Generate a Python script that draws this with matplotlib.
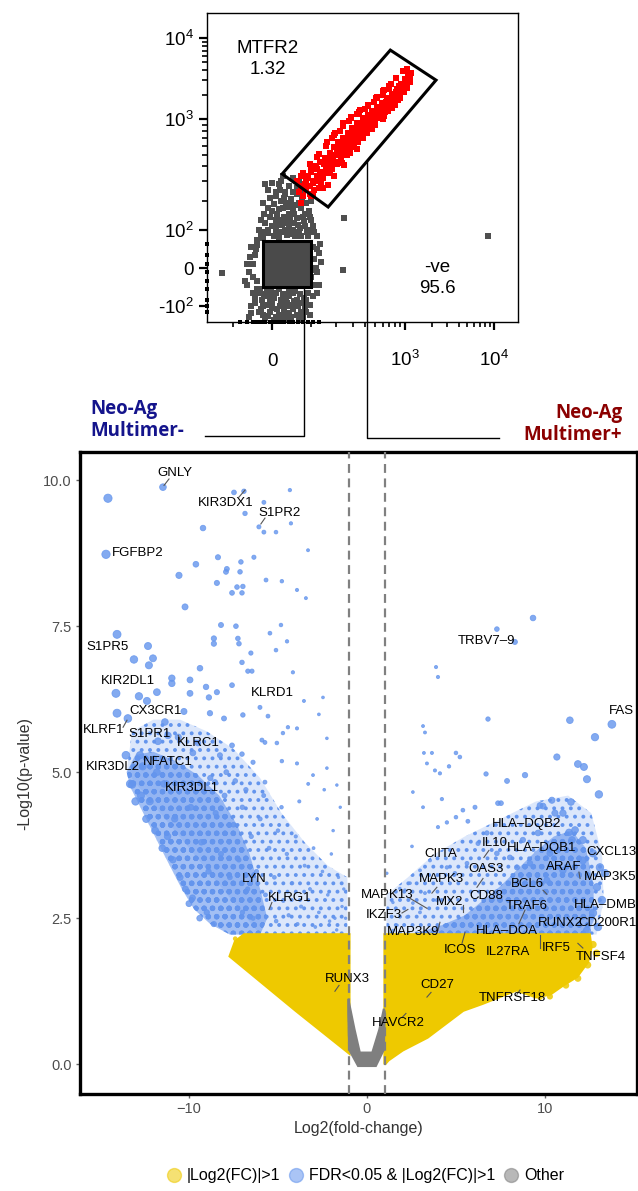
"""
Neo-Ag multimer sort (flow plot) + volcano plot of multimer+ vs multimer- cells
"""

import numpy as np
import matplotlib.pyplot as plt
from matplotlib.colors import to_rgba
from matplotlib.lines import Line2D
from matplotlib.patches import Polygon, Rectangle
from matplotlib.ticker import FixedLocator, NullFormatter

plt.rcParams['font.family'] = ['Liberation Sans', 'DejaVu Sans']
plt.rcParams['mathtext.fontset'] = 'custom'
plt.rcParams['mathtext.rm'] = 'Liberation Sans'
plt.rcParams['hatch.linewidth'] = 1.6

# ---------------- flow data (fluorescence intensity) ----------------
# biexponential axes: tick value -> position anchors
flow_x_anchor_val = [-205, 0, 1000, 10000, 18600]
flow_x_anchor_pos = [0, 65, 198, 287, 311]
flow_y_anchor_val = [-160, -100, 0, 100, 1000, 10000, 20000]
flow_y_anchor_pos = [0, 16, 54, 92, 203, 284, 309]

gate_pos = np.array([(23, 345), (716, 7110), (2230, 3030), (163, 174)])   # MTFR2 gate
gate_neg = (-20, -45, 100, 67)                                            # -ve gate  x0,y0,x1,y1

red_cells = np.array([
    (60, 300), (65, 240), (70, 330), (75, 220), (80, 280), (85, 250), (90, 320), (95, 230),
    (100, 360), (105, 290), (110, 250), (115, 400), (120, 330), (125, 300), (130, 440), (135, 360),
    (140, 320), (150, 470), (155, 390), (160, 350), (170, 520), (175, 430), (180, 380), (190, 590),
    (200, 500), (210, 640), (215, 560), (225, 470), (235, 690), (245, 600), (255, 520), (265, 760),
    (275, 650), (285, 580), (295, 850), (310, 740), (320, 660), (335, 930), (350, 800), (365, 720),
    (380, 1020), (395, 880), (410, 790), (425, 1120), (440, 960), (460, 860), (475, 1250), (490, 1070),
    (510, 960), (530, 1400), (550, 1200), (570, 1080), (595, 1580), (620, 1350), (640, 1220), (670, 1800),
    (700, 1550), (720, 1380), (750, 2050), (780, 1780), (800, 1600), (830, 2350), (860, 2050), (880, 1850),
    (920, 2700), (950, 2400), (980, 2150), (1010, 3100), (1040, 2800), (1080, 3500), (1120, 3300),
    (1100, 3750), (1150, 3600), (245, 410), (163, 277), (209, 520), (140, 260), (330, 560),
    (600, 1000), (870, 2600), (100, 220), (190, 330),
    (70, 270), (85, 300), (95, 270), (110, 300), (120, 380), (130, 340), (145, 420), (150, 350),
    (165, 450), (170, 400), (185, 480), (195, 440), (205, 560), (220, 600), (230, 530), (240, 650),
    (250, 560), (260, 620), (270, 700), (280, 610), (290, 680), (300, 780), (315, 700), (325, 820),
    (340, 740), (355, 860), (370, 780), (385, 940), (400, 840), (420, 1000), (435, 900), (450, 1080),
    (465, 960), (485, 1150), (500, 1010), (520, 1250), (540, 1120), (560, 1350), (580, 1200),
    (610, 1450), (630, 1300), (655, 1650), (680, 1450), (710, 1700), (735, 1550), (765, 1900),
    (790, 1700), (820, 2150), (845, 1950), (900, 2400), (930, 2250), (965, 2600), (1000, 2450),
    (1030, 3000), (1060, 2700), (1090, 3200), (1130, 3450), (1160, 3700), (125, 260), (175, 500),
    (260, 700), (380, 900), (560, 1250),
    (75, 350), (70, 190), (80, 330), (95, 420), (105, 230), (100, 400), (125, 510), (135, 280),
    (120, 480), (160, 640), (170, 350), (155, 600), (195, 770), (205, 420), (190, 730), (240, 920),
    (260, 500), (235, 880), (290, 1070), (310, 590), (285, 1030), (355, 1280), (385, 700), (350, 1240),
    (430, 1510), (470, 830), (425, 1450), (530, 1890), (570, 1040), (520, 1800), (625, 2300),
    (680, 1260), (610, 2200), (720, 2700), (790, 1500), (700, 2600), (820, 3200), (890, 1800),
    (960, 3900), (1050, 2400), (1060, 4200), (1150, 2900), (180, 690), (220, 800), (275, 960),
    (330, 1150), (400, 1320), (490, 1650), (600, 2000), (700, 2350), (230, 430), (280, 520),
    (340, 640), (420, 760), (510, 900), (620, 1100), (740, 1380), (860, 1700),
])

gray_cells = np.array([
    (-10, 90), (0, 110), (10, 130), (20, 95), (30, 120), (40, 150), (50, 100), (60, 135), (70, 170),
    (80, 110), (-20, 75), (-5, 140), (25, 170), (45, 200), (55, 80), (15, 75), (35, 85), (65, 90),
    (90, 80), (100, 130), (5, 185), (-30, 100), (75, 140), (85, 190), (110, 95), (40, 110), (30, 230),
    (60, 260), (20, 300), (-15, 120), (-40, 30), (-55, -10), (-35, -30), (-50, 50), (-60, 10),
    (110, 20), (120, -10), (105, 50), (130, 60), (-45, -60), (-30, -60), (-10, -70), (0, -90),
    (10, -60), (20, -80), (30, -100), (40, -70), (50, -110), (-20, -100), (-5, -120), (15, -130),
    (25, -65), (35, -90), (60, -80), (70, -120), (-40, -90), (45, -140), (5, -150), (-15, -145),
    (80, -100), (55, -55), (90, -60), (-140, -12), (237, -4), (245, 135), (8500, 80),
    (0, 290), (15, 280), (44, 205), (30, 240), (55, 180), (20, 200), (60, 230), (-10, 250), (10, 220),
    (-25, 85), (-8, 100), (8, 95), (22, 115), (38, 95), (52, 120), (68, 105), (82, 150), (95, 100),
    (12, 150), (28, 140), (48, 170), (62, 115), (0, 160), (-18, 150), (33, 190), (72, 210), (18, 250),
    (50, 240), (-5, 210), (40, 270), (25, 330), (65, 300), (-28, -50), (-12, -55), (5, -75),
    (22, -95), (38, -55), (52, -85), (68, -65), (85, -80), (-22, -80), (-8, -95), (12, -110),
    (28, -120), (42, -100), (58, -130), (75, -140), (-30, -120), (-10, -135), (20, -145), (35, -150),
    (95, -130), (-50, -100), (-60, -40), (-45, 10), (-38, 45), (115, 0), (125, 35), (112, -40),
    (-55, -140), (100, -20),
    (-35, 70), (-15, 95), (5, 80), (18, 130), (42, 130), (58, 95), (78, 125), (92, 160), (105, 110),
    (120, 80), (-25, 130), (10, 110), (30, 100), (48, 88), (70, 80), (88, 95), (-8, 170), (15, 165),
    (52, 150), (95, 140), (38, 175), (65, 190), (-20, 190), (8, 240), (28, 210), (75, 240), (100, 200),
    (50, 320), (-15, 280), (-35, -50), (-18, -65), (-2, -58), (15, -50), (32, -75), (48, -62),
    (62, -100), (78, -75), (95, -95), (-40, -75), (-25, -110), (0, -105), (18, -100), (30, -140),
    (50, -95), (65, -150), (85, -120), (105, -70), (-50, -125), (-20, -130), (10, -140), (40, -125),
    (-5, -80), (70, -90), (120, -60), (-45, -20), (-52, 25), (-35, 55), (-65, -30), (108, -5),
    (118, 45), (135, 15), (125, -40),
])
edge_cells_x = [-80, -60, -45, -35, -25, -15, -5, 5, 12, 20, 28, 40, 50, 62, 75, 90, 105, 125]  # bottom edge
edge_cells_y = [-120, -80, -50, -30, -10, 10, 30, 60, -100]                                   # left edge

# ---------------- volcano data ----------------
blue_pts = np.array([
    (-14.55, 9.69), (-11.46, 9.88), (-7.47, 9.79), (-6.91, 9.81), (-4.33, 9.83), (-5.79, 9.62),
    (-6.85, 9.43), (-6.07, 9.2), (-5.79, 9.11), (-5.11, 9.11), (-4.27, 9.26), (-9.21, 9.18),
    (-3.31, 8.8), (-14.66, 8.73), (-8.37, 8.68), (-7.08, 8.6), (-6.35, 8.68), (-9.61, 8.56),
    (-7.87, 8.48), (-7.92, 8.43), (-7.13, 8.43), (-10.56, 8.37), (-5.67, 8.29), (-4.78, 8.27),
    (-8.43, 8.24), (-7.30, 8.17), (-6.97, 8.18), (-3.93, 8.12), (-7.58, 8.07), (-7.02, 8.07),
    (-3.43, 7.98), (-10.22, 7.83), (-8.2, 7.52), (-7.36, 7.5), (-4.83, 7.52), (-5.45, 7.38),
    (-14.04, 7.36), (-8.6, 7.29), (-7.25, 7.29), (-4.49, 7.24), (-8.6, 7.2), (-7.19, 7.2),
    (-12.3, 7.16), (-5.11, 7.09), (-13.09, 6.93), (-12.02, 6.95), (-6.52, 7.04), (-12.25, 6.83),
    (-7.02, 6.88), (-9.38, 6.78), (-6.69, 6.73), (-6.46, 6.73), (-4.16, 6.71), (-10.96, 6.61),
    (-9.94, 6.58), (-10.96, 6.52), (-7.58, 6.49), (-9.04, 6.46), (-14.1, 6.35), (-12.81, 6.3),
    (-11.8, 6.37), (-9.94, 6.35), (-8.88, 6.28), (-8.43, 6.37), (-2.47, 6.28), (-3.54, 6.22),
    (-12.36, 6.22), (-6.01, 6.11), (-5.56, 5.96), (-2.7, 5.99), (-14.04, 6.01), (-13.43, 5.92),
    (-11.35, 5.86), (-10.28, 6.04), (-8.82, 6.01), (-8.03, 5.92), (-6.97, 5.98), (-4.44, 5.77),
    (-3.93, 5.75), (-4.72, 5.67), (-2.25, 5.58), (-5.9, 5.55), (-5.73, 5.51), (-7.58, 5.46),
    (-5.06, 5.5), (-11.74, 5.53), (-11.18, 5.63), (-9.78, 5.33), (-13.54, 5.29), (-12.75, 5.29),
    (-8.26, 5.29), (-7.02, 5.31), (-6.4, 5.17), (-4.78, 5.19), (-3.93, 5.15), (-2.25, 5.07),
    (-3.03, 4.95), (-5.73, 4.83), (-13.2, 4.79), (-8.54, 4.83), (-1.69, 4.78),
    (-13.3, 4.8), (-13.0, 4.5), (-12.7, 4.6), (-12.4, 4.2), (-12.2, 4.5), (-11.9, 4.0), (-11.5, 3.7),
    (-11.2, 3.9), (-10.9, 3.5), (-10.5, 3.2), (-10.2, 3.0), (-10.0, 2.75), (-9.8, 2.85), (-9.4, 2.5),
    (-9.0, 2.6), (-8.6, 2.4), (-8.5, 4.3), (-8.0, 4.6), (-7.5, 4.1), (-7.0, 4.4), (-6.5, 3.9),
    (-6.0, 4.2), (-5.5, 3.7), (-5.0, 4.0), (-4.5, 3.6), (-4.0, 3.9), (-3.5, 3.4), (-3.0, 3.7),
    (-2.5, 3.3), (-2.0, 3.6), (-1.6, 3.2), (-1.3, 3.0), (-8.2, 3.6), (-7.7, 3.2), (-7.2, 3.5),
    (-6.7, 3.0), (-6.2, 3.3), (-5.7, 2.9), (-5.2, 3.2), (-4.7, 2.8), (-4.2, 3.1), (-3.7, 2.7),
    (-3.2, 3.0), (-2.7, 2.6), (-2.2, 2.9), (-1.8, 2.5), (-1.4, 2.7), (-8.8, 4.9), (-7.9, 5.0),
    (-6.8, 4.7), (-5.8, 4.6), (-4.8, 4.4), (-3.8, 4.5), (-2.8, 4.2), (-1.9, 4.0), (-1.5, 4.4),
    (-9.5, 5.5), (-7.4, 4.85), (-3.3, 4.8), (-2.4, 4.7), (-6.4, 2.5), (-5.1, 2.45), (-3.9, 2.4),
    (-2.9, 2.35), (-1.7, 2.3), (-7.0, 2.6), (-4.4, 2.55), (-2.1, 2.45), (-1.2, 2.5), (-10.6, 5.6),
    (-11.4, 4.8), (-12.6, 5.1), (-9.9, 4.4), (-10.8, 4.2), (-9.3, 3.8), (-8.9, 3.3), (-11.8, 5.0),
    (9.33, 7.64), (7.3, 7.45), (8.31, 7.23), (3.88, 6.8), (3.99, 6.63), (6.8, 5.91), (11.4, 5.89),
    (13.76, 5.82), (12.81, 5.6), (10.67, 5.26), (3.15, 5.79), (3.26, 5.68), (5.0, 5.33), (5.22, 5.26),
    (3.65, 5.33), (3.2, 5.33), (3.37, 5.15), (3.82, 5.03), (4.1, 4.98), (4.61, 5.1), (6.69, 4.97),
    (7.87, 4.85), (11.85, 5.14), (12.19, 5.09), (12.36, 4.88), (8.88, 4.95), (13.03, 4.62),
    (11.46, 4.49), (9.89, 4.42), (10.39, 4.52), (9.72, 4.43), (7.36, 4.47), (7.53, 4.47), (2.58, 4.66),
    (3.15, 4.4), (4.21, 4.54), (6.07, 4.4), (5.39, 4.35), (5.0, 4.23), (5.67, 4.16), (4.49, 4.14),
    (3.99, 4.06), (2.53, 3.73), (11.69, 4.01), (11.35, 3.97), (10.56, 4.3), (11.01, 4.3), (9.61, 3.96),
    (8.76, 3.84), (8.03, 3.54), (6.24, 3.78), (6.74, 3.96), (7.3, 3.61), (5.62, 3.44), (4.94, 3.27),
    (4.49, 3.37), (3.54, 3.49), (2.98, 3.32), (2.42, 3.1), (2.13, 2.98), (3.26, 2.93), (3.93, 2.81),
    (2.98, 2.6), (2.25, 2.52), (1.69, 2.38), (1.46, 2.77), (1.12, 3.27), (1.85, 3.01), (2.58, 2.76),
    (1.46, 2.29), (12.13, 3.49), (12.7, 3.61), (13.09, 3.37), (13.37, 3.27), (12.92, 3.03),
    (13.2, 2.81), (12.7, 2.59), (12.98, 2.35), (12.36, 2.29), (12.13, 3.84), (11.52, 3.84),
    (10.28, 3.61), (11.01, 3.32), (10.11, 3.15), (9.16, 3.44), (8.43, 3.37),
])
yellow_pts = np.array([
    (12.7, 2.05), (11.85, 1.47), (11.18, 1.35), (10.28, 1.16), (9.72, 1.15), (12.4, 1.7),
    (12.9, 1.9), (-7.4, 2.15), (-7.2, 1.95), (-6.8, 2.05), (-6.5, 2.15), (-7.0, 1.85),
])

# dense parts of each cloud, outlined from the picture
blue_core_left = [(-13.5, 5.0), (-13.3, 4.75), (-12.4, 4.2), (-11.5, 3.65), (-10.4, 3.0), (-9.7, 2.65),
                  (-8.8, 2.4), (-7.7, 2.22), (-6.0, 2.22), (-5.6, 2.5), (-6.0, 3.0), (-6.6, 3.6),
                  (-7.3, 4.1), (-8.3, 4.6), (-9.5, 4.95), (-10.8, 5.2), (-12.0, 5.35), (-13.0, 5.3)]
blue_mid_left = [(-6.0, 2.22), (-1.1, 2.22), (-1.1, 3.2), (-2.2, 3.4), (-3.5, 3.8), (-4.8, 4.3),
                 (-6.0, 4.9), (-7.5, 5.4), (-9.0, 5.7), (-10.5, 5.9), (-12.0, 5.9), (-13.2, 5.7),
                 (-13.5, 5.0)]
blue_core_right = [(2.5, 2.22), (12.4, 2.22), (12.8, 2.5), (12.7, 3.1), (12.3, 3.7), (11.5, 4.0),
                   (10.5, 3.9), (9.5, 3.65), (8.5, 3.35), (7.5, 3.05), (6.5, 2.8), (5.5, 2.55), (4.2, 2.38)]
blue_mid_right = [(1.1, 2.22), (12.9, 2.22), (13.3, 2.8), (13.2, 3.6), (12.6, 4.3), (11.3, 4.6),
                  (9.5, 4.5), (7.5, 4.2), (5.5, 3.9), (3.8, 3.6), (2.3, 3.2), (1.1, 2.9)]
yellow_left = [(-1.0, 2.22), (-6.9, 2.22), (-7.4, 2.1), (-7.7, 1.85), (-4.0, 0.92), (-1.0, 0.19)]
yellow_right = [(1.0, 2.22), (12.5, 2.22), (12.6, 2.0), (12.4, 1.75), (11.8, 1.5), (11.0, 1.35),
                (10.3, 1.2), (9.5, 1.15), (8.4, 1.27), (6.5, 1.04), (5.4, 0.92), (3.4, 0.46),
                (2.0, 0.24), (1.2, 0.07), (1.0, 0.0)]
gray_other = [(-1.05, 1.12), (-0.7, 0.6), (-0.4, 0.2), (0.3, 0.2), (0.7, 0.6), (0.95, 0.95),
              (1.0, 0.9), (0.95, 0.25), (0.5, -0.03), (-0.5, -0.03), (-1.0, 0.25), (-1.05, 0.9)]

gene_names = ['GNLY', 'KIR3DX1', 'S1PR2', 'FGFBP2', 'S1PR5', 'KIR2DL1', 'KLRD1', 'CX3CR1', 'KLRF1',
              'S1PR1', 'KLRC1', 'KIR3DL2', 'NFATC1', 'KIR3DL1', 'LYN', 'KLRG1', 'RUNX3',
              'TRBV7\u20139', 'FAS', 'HLA\u2013DQB2', 'IL10', 'HLA\u2013DQB1', 'CIITA', 'CXCL13', 'OAS3',
              'ARAF', 'MAP3K5', 'MAPK3', 'BCL6', 'MAPK13', 'CD88', 'MX2', 'TRAF6', 'HLA\u2013DMB',
              'IKZF3', 'RUNX2', 'CD200R1', 'MAP3K9', 'HLA\u2013DOA', 'ICOS', 'IL27RA', 'IRF5', 'TNFSF4',
              'CD27', 'TNFRSF18', 'HAVCR2']
gene_x = [-10.79, -7.92, -4.89, -12.86, -14.6, -13.4, -5.34, -11.85, -14.8, -12.2, -9.5, -14.3,
          -11.2, -9.83, -6.35, -4.33, -1.12, 6.74, 14.3, 8.99, 7.19, 9.83, 4.16, 13.75, 6.69,
          11.07, 13.65, 4.16, 8.99, 1.12, 6.69, 4.66, 8.99, 13.4, 0.96, 10.84, 13.5, 2.58, 7.87,
          5.22, 7.92, 10.62, 13.15, 3.93, 8.15, 1.74]
gene_y = [10.12, 9.61, 9.43, 8.75, 7.14, 6.56, 6.35, 6.04, 5.72, 5.65, 5.5, 5.09, 5.17, 4.73,
          3.18, 2.84, 1.46, 7.24, 6.04, 4.11, 3.78, 3.7, 3.6, 3.63, 3.34, 3.37, 3.2, 3.17, 3.08,
          2.89, 2.88, 2.77, 2.71, 2.72, 2.55, 2.41, 2.41, 2.26, 2.28, 1.95, 1.93, 1.99, 1.83,
          1.35, 1.13, 0.7]
# label leader segments (x0, y0, x1, y1)
leaders = [(-11.4, 9.91, -11.12, 10.02), (-7.19, 9.71, -6.85, 9.83), (-5.96, 9.25, -5.73, 9.35),
           (-13.7, 5.77, -13.48, 5.89), (-10.6, 5.63, -10.5, 5.55), (-5.5, 2.65, -5.34, 2.77),
           (-1.8, 1.25, -1.57, 1.35), (6.57, 3.54, 6.85, 3.66), (6.18, 3.03, 6.52, 3.18),
           (11.91, 3.29, 11.97, 3.18), (3.65, 2.93, 3.93, 3.03), (9.89, 2.98, 10.11, 2.91),
           (2.42, 2.84, 3.37, 2.67), (5.39, 2.72, 5.39, 2.6), (8.88, 2.64, 8.54, 2.41),
           (1.97, 2.59, 2.3, 2.65), (3.99, 2.29, 4.1, 2.43), (5.34, 2.07, 5.51, 2.26),
           (9.72, 2.21, 9.72, 1.99), (11.85, 2.07, 12.13, 1.99), (3.37, 1.15, 3.6, 1.23),
           (8.43, 1.2, 8.6, 1.27), (1.97, 0.8, 2.19, 0.87)]

YELLOW = '#EEC900'
BLUE = '#6495ED'
GRAY = '#7F7F7F'


def biex(vals, pos):
    a = np.arcsinh(np.asarray(vals, float) / 100)
    p = np.asarray(pos, float)
    fwd = lambda v: np.interp(np.arcsinh(np.asarray(v, float) / 100), a, p)
    inv = lambda q: 100 * np.sinh(np.interp(q, p, a))
    return fwd, inv


fig = plt.figure(figsize=(6.38, 11.91), dpi=100)

# ---------------- flow plot ----------------
ax1 = fig.add_axes([0.3245, 0.7296, 0.4875, 0.2594])
ax1.set_xscale('function', functions=biex(flow_x_anchor_val, flow_x_anchor_pos))
ax1.set_yscale('function', functions=biex(flow_y_anchor_val, flow_y_anchor_pos))
ax1.set_xlim(-205, 18600)
ax1.set_ylim(-160, 20000)

ax1.scatter(gray_cells[:, 0], gray_cells[:, 1], marker='s', s=13, color='#4f4f4f', linewidths=0)
ax1.scatter(edge_cells_x, [-160] * len(edge_cells_x), marker='s', s=11, color='black',
            linewidths=0, clip_on=False)
ax1.scatter([-205] * len(edge_cells_y), edge_cells_y, marker='s', s=11, color='black',
            linewidths=0, clip_on=False)
ax1.add_patch(Rectangle((gate_neg[0], gate_neg[1]), gate_neg[2] - gate_neg[0], gate_neg[3] - gate_neg[1],
                        facecolor='#4a4a4a', edgecolor='black', linewidth=2.2, zorder=3))
ax1.scatter(red_cells[:, 0], red_cells[:, 1], marker='s', s=13, color='#ff0000', linewidths=0, zorder=4)
ax1.add_patch(Polygon(gate_pos, closed=True, fill=False, edgecolor='black', linewidth=2.2, zorder=5))

ax1.text(0.196, 0.851, 'MTFR2\n1.32', transform=ax1.transAxes, ha='center', va='center',
         fontsize=13.5, linespacing=1.3)
ax1.text(0.74, 0.142, '-ve\n95.6', transform=ax1.transAxes, ha='center', va='center',
         fontsize=13.5, linespacing=1.3)

ax1.xaxis.set_major_locator(FixedLocator([0, 1000, 10000]))
ax1.set_xticklabels(['0', '$10^3$', '$10^4$'])
ax1.xaxis.set_minor_locator(FixedLocator([-100, 100, 200, 300, 400, 500, 600, 700, 800, 900,
                                          2000, 3000, 4000, 5000, 6000, 7000, 8000, 9000]))
ax1.yaxis.set_major_locator(FixedLocator([-100, 0, 100, 1000, 10000]))
ax1.set_yticklabels(['-$10^2$', '0', '$10^2$', '$10^3$', '$10^4$'])
ax1.yaxis.set_minor_locator(FixedLocator([200, 300, 400, 500, 600, 700, 800, 900,
                                          2000, 3000, 4000, 5000, 6000, 7000, 8000, 9000]))
ax1.xaxis.set_minor_formatter(NullFormatter())
ax1.yaxis.set_minor_formatter(NullFormatter())
ax1.tick_params(which='major', length=6, width=1.6, labelsize=13.5, color='black')
ax1.tick_params(which='minor', length=3.5, width=1.2, color='black')
ax1.tick_params(axis='x', which='major', pad=26)
for lab in ax1.get_xticklabels():
    lab.set_va('baseline')
for sp in ax1.spines.values():
    sp.set_linewidth(1.0)

# connector lines from the gates to the group labels
fig.add_artist(Line2D([304 / 638, 304 / 638, 205 / 638], [1 - 287 / 1191, 1 - 436 / 1191, 1 - 436 / 1191],
                      color='black', linewidth=1.0))
fig.add_artist(Line2D([367 / 638, 367 / 638, 499 / 638], [1 - 161 / 1191, 1 - 438 / 1191, 1 - 438 / 1191],
                      color='black', linewidth=1.0))
fig.text(0.141, 0.6474, 'Neo-Ag\nMultimer-', ha='left', va='center', fontsize=13.5, fontweight='bold',
         color='#14148c', family=['Open Sans', 'DejaVu Sans'], linespacing=1.15)
fig.text(0.975, 0.644, 'Neo-Ag\nMultimer+', ha='right', va='center', fontsize=13.5, fontweight='bold',
         color='#8b0000', family=['Open Sans', 'DejaVu Sans'], linespacing=1.15, multialignment='right')

# ---------------- volcano plot ----------------
ax2 = fig.add_axes([0.1254, 0.0814, 0.873, 0.539])
ax2.set_xlim(-16.12, 15.17)
ax2.set_ylim(-0.51, 10.48)

for poly, a, h in [(blue_mid_left, 0.22, '..'), (blue_mid_right, 0.22, '..'),
                   (blue_core_left, 0.6, 'oo'), (blue_core_right, 0.6, 'oo')]:
    ax2.add_patch(Polygon(poly, closed=True, facecolor=to_rgba(BLUE, a), edgecolor=BLUE,
                          hatch=h, linewidth=0, zorder=1))
bsize = 3 + (np.abs(blue_pts[:, 0]) / 14) ** 2 * 30
ax2.scatter(blue_pts[:, 0], blue_pts[:, 1], s=bsize, color=BLUE, alpha=0.8, linewidths=0.6,
            edgecolors=BLUE, zorder=2)
for poly in (yellow_left, yellow_right):
    ax2.add_patch(Polygon(poly, closed=True, facecolor=YELLOW, edgecolor=YELLOW, linewidth=2, zorder=3))
ysize = 3 + (np.abs(yellow_pts[:, 0]) / 14) ** 2 * 30
ax2.scatter(yellow_pts[:, 0], yellow_pts[:, 1], s=ysize, color=YELLOW, alpha=0.85, linewidths=0, zorder=3)
ax2.add_patch(Polygon(gray_other, closed=True, facecolor=GRAY, edgecolor=GRAY, linewidth=1.5, zorder=4))

for xv in (-1, 1):
    ax2.axvline(xv, color='#808080', linestyle=(0, (4, 2.5)), linewidth=1.6, zorder=5)

for x0, y0, x1, y1 in leaders:
    ax2.plot([x0, x1], [y0, y1], color='#555555', linewidth=0.8, zorder=6)
for name, tx, ty in zip(gene_names, gene_x, gene_y):
    ax2.text(tx, ty, name, ha='center', va='center', fontsize=9.5, zorder=7,
             family=['Liberation Sans Narrow', 'Liberation Sans'])

ax2.set_xticks([-10, 0, 10])
ax2.set_yticks([0, 2.5, 5, 7.5, 10])
ax2.set_yticklabels(['0.0', '2.5', '5.0', '7.5', '10.0'])
ax2.tick_params(length=3, width=1, color='#666666', labelsize=10.5, labelcolor='#4d4d4d', pad=3)
for sp in ax2.spines.values():
    sp.set_linewidth(2.4)
ax2.set_xlabel('Log2(fold-change)', fontsize=11.5, color='#333333', labelpad=3)
ax2.set_ylabel('-Log10(p-value)', fontsize=11.5, color='#333333', labelpad=8)

handles = [Line2D([], [], marker='o', linestyle='', markersize=10, markerfacecolor=c, markeredgecolor=c,
                  alpha=0.55) for c in (YELLOW, BLUE, GRAY)]
fig.legend(handles, ['|Log2(FC)|>1', 'FDR<0.05 & |Log2(FC)|>1', 'Other'], loc='center',
           bbox_to_anchor=(0.572, 0.0126), ncol=3, frameon=False, fontsize=11.5,
           handletextpad=0.3, columnspacing=0.5, handlelength=1.0)

plt.savefig('out.png', dpi=100)
